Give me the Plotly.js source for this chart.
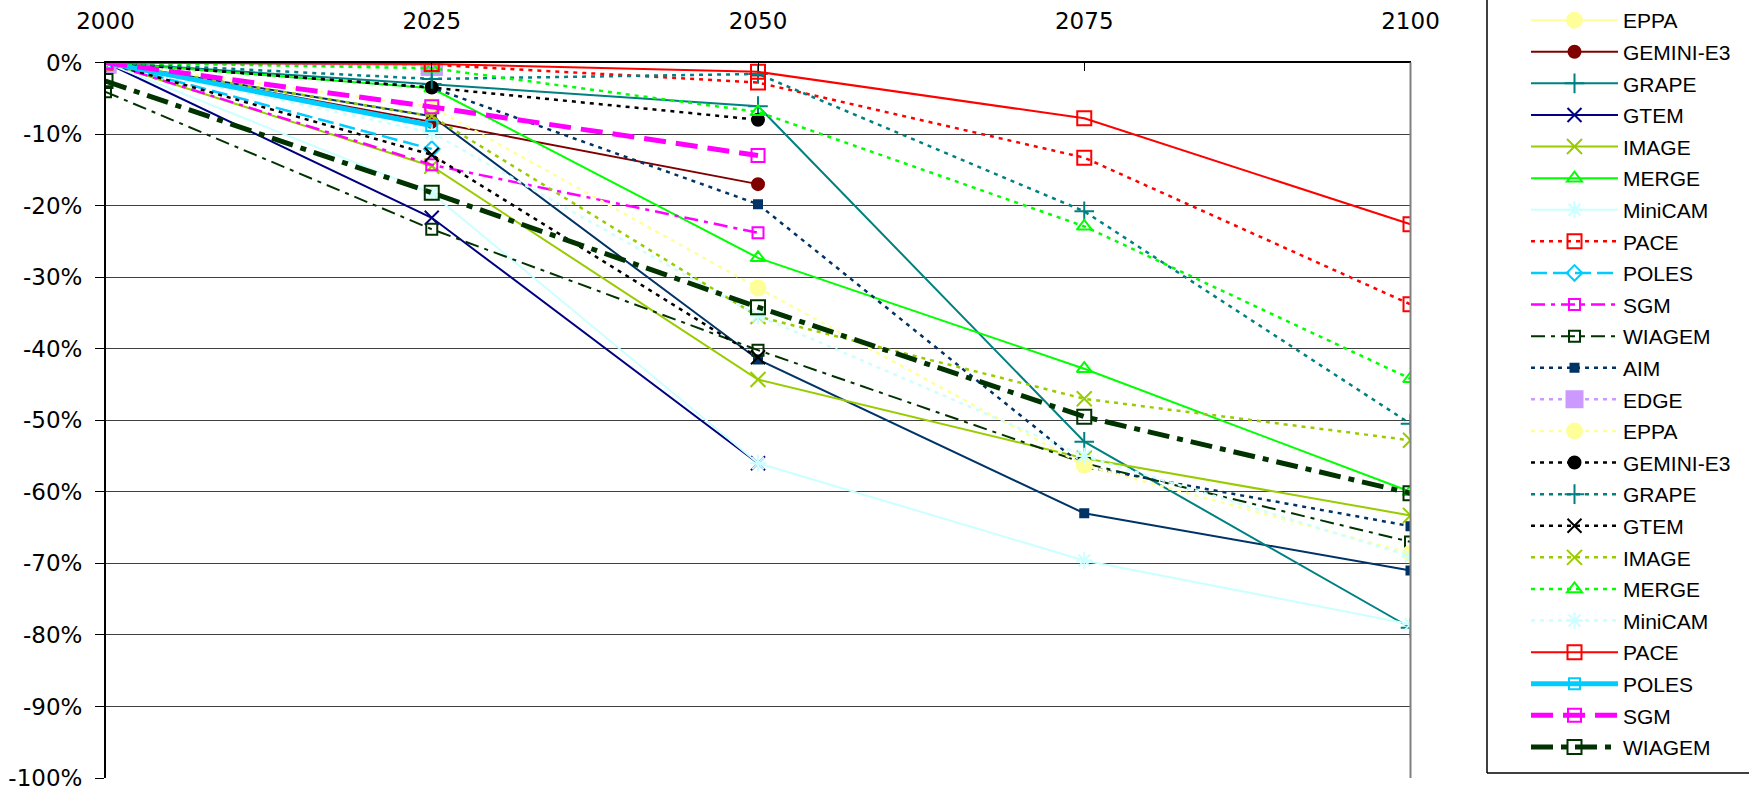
<!DOCTYPE html>
<html>
<head>
<meta charset="utf-8">
<script src="https://cdn.plot.ly/plotly-3.0.1.min.js"></script>
<style>
  html, body { margin: 0; padding: 0; background: #ffffff; }
  #chart { width: 1749px; height: 793px; }
</style>
</head>
<body>
<div id="chart"></div>
<script>
// ---------------- DATA ----------------
const years = [2000, 2025, 2050, 2075, 2100];
const xTickText = ['2000', '2025', '2050', '2075', '2100'];
const yTickVals = [0, -10, -20, -30, -40, -50, -60, -70, -80, -90, -100];
const yTickText = ['0%', '-10%', '-20%', '-30%', '-40%', '-50%', '-60%', '-70%', '-80%', '-90%', '-100%'];

// first scenario set (values in %)
const AIM_A     = [0, -7.5, -41.5, -63, -71];
const EDGE_A    = [0, -0.3, null, null, null];
const EPPA_A    = [0, null, null, null, null];
const GEMINI_A  = [0, -8.3, -17, null, null];
const GRAPE_A   = [0, -3, -6.1, -53, -79];
const GTEM_A    = [0, -21.7, -56, null, null];
const IMAGE_A   = [0, -14.5, -44.3, -55.3, -63.3];
const MERGE_A   = [0, -3.6, -27.3, -42.8, -60];
const MINICAM_A = [0, -18.3, -56, -69.6, -78.5];
const PACE_A    = [0, -0.3, -2.8, -13.3, -33.8];
const POLES_A   = [0, -12.1, null, null, null];
const SGM_A     = [0, -14.3, -23.8, null, null];
const WIAGEM_A  = [-4.1, -23.3, -40.2, -56, -67];

// second scenario set (values in %)
const AIM_B     = [0, -3.5, -19.8, -56.5, -64.8];
const EDGE_B    = [0, -0.3, null, null, null];
const EPPA_B    = [0, -6.2, -31.5, -56.3, -68.6];
const GEMINI_B  = [0, -3.5, -8, null, null];
const GRAPE_B   = [0, -2.3, -1.6, -20.8, -50.5];
const GTEM_B    = [0, -12.9, -41.2, null, null];
const IMAGE_B   = [0, -7.5, -35.5, -47, -52.8];
const MERGE_B   = [0, -0.8, -6.9, -22.9, -44.2];
const MINICAM_B = [0, -9.8, -35.4, -55, -69];
const PACE_B    = [0, -0.2, -1.3, -7.8, -22.6];
const POLES_B   = [0, -8.8, null, null, null];
const SGM_B     = [0, -6.2, -13, null, null];
const WIAGEM_B  = [-2.6, -18.2, -34.2, -49.5, -60.2];

// ---------------- STYLES ----------------
const DOT = '4px,5px';
const series = [
  {name: 'AIM',       y: AIM_A,     color: '#003366', w: 2,   dash: 'solid', sym: 'square',            ms: 8,  leg: false},
  {name: 'EDGE',      y: EDGE_A,    color: '#CC99FF', w: 2,   dash: 'solid', sym: 'square',            ms: 20, leg: false},
  {name: 'EPPA',      y: EPPA_A,    color: '#FFFF99', w: 2,   dash: 'solid', sym: 'circle',            ms: 15, leg: true},
  {name: 'GEMINI-E3', y: GEMINI_A,  color: '#800000', w: 2,   dash: 'solid', sym: 'circle',            ms: 12, leg: true},
  {name: 'GRAPE',     y: GRAPE_A,   color: '#008080', w: 2,   dash: 'solid', sym: 'cross-thin-open',   ms: 14, leg: true},
  {name: 'GTEM',      y: GTEM_A,    color: '#000080', w: 2,   dash: 'solid', sym: 'x-thin-open',       ms: 14, leg: true},
  {name: 'IMAGE',     y: IMAGE_A,   color: '#99CC00', w: 2,   dash: 'solid', sym: 'x-thin-open',       ms: 15, leg: true},
  {name: 'MERGE',     y: MERGE_A,   color: '#00FF00', w: 2,   dash: 'solid', sym: 'triangle-up-open',  ms: 13, leg: true},
  {name: 'MiniCAM',   y: MINICAM_A, color: '#CCFFFF', w: 2,   dash: 'solid', sym: 'asterisk-open',     ms: 14, leg: true},
  {name: 'PACE',      y: PACE_A,    color: '#FF0000', w: 2.5, dash: DOT,     sym: 'square-open',       ms: 14, leg: true},
  {name: 'POLES',     y: POLES_A,   color: '#00CCFF', w: 2.5, dash: '16px,6px', sym: 'diamond-open',   ms: 12, leg: true},
  {name: 'SGM',       y: SGM_A,     color: '#FF00FF', w: 2.5, dash: '14px,6px,4px,6px', sym: 'square-open', ms: 11, leg: true},
  {name: 'WIAGEM',    y: WIAGEM_A,  color: '#003300', w: 2,   dash: '14px,6px,4px,6px', sym: 'square-open', ms: 11, leg: true},
  {name: 'AIM',       y: AIM_B,     color: '#003366', w: 2.5, dash: DOT,     sym: 'square',            ms: 8,  leg: true},
  {name: 'EDGE',      y: EDGE_B,    color: '#CC99FF', w: 2.5, dash: DOT,     sym: 'square',            ms: 20, leg: true},
  {name: 'EPPA',      y: EPPA_B,    color: '#FFFF99', w: 2.5, dash: DOT,     sym: 'circle',            ms: 15, leg: true},
  {name: 'GEMINI-E3', y: GEMINI_B,  color: '#000000', w: 2.5, dash: DOT,     sym: 'circle',            ms: 12, leg: true},
  {name: 'GRAPE',     y: GRAPE_B,   color: '#008080', w: 2.5, dash: DOT,     sym: 'cross-thin-open',   ms: 14, leg: true},
  {name: 'GTEM',      y: GTEM_B,    color: '#000000', w: 2.5, dash: DOT,     sym: 'x-thin-open',       ms: 14, leg: true},
  {name: 'IMAGE',     y: IMAGE_B,   color: '#99CC00', w: 2.5, dash: DOT,     sym: 'x-thin-open',       ms: 15, leg: true},
  {name: 'MERGE',     y: MERGE_B,   color: '#00FF00', w: 2.5, dash: DOT,     sym: 'triangle-up-open',  ms: 13, leg: true},
  {name: 'MiniCAM',   y: MINICAM_B, color: '#CCFFFF', w: 2.5, dash: DOT,     sym: 'asterisk-open',     ms: 14, leg: true},
  {name: 'PACE',      y: PACE_B,    color: '#FF0000', w: 2,   dash: 'solid', sym: 'square-open',       ms: 14, leg: true},
  {name: 'POLES',     y: POLES_B,   color: '#00CCFF', w: 5,   dash: 'solid', sym: 'square-open',       ms: 11, leg: true},
  {name: 'SGM',       y: SGM_B,     color: '#FF00FF', w: 5,   dash: '22px,10px', sym: 'square-open',   ms: 13, leg: true},
  {name: 'WIAGEM',    y: WIAGEM_B,  color: '#003300', w: 5,   dash: '22px,8px,6px,8px', sym: 'square-open', ms: 14, leg: true}
];

const traces = series.map(function (s, i) {
  return {
    type: 'scatter',
    mode: 'lines+markers',
    x: years,
    y: s.y,
    name: s.name,
    legendgroup: 'g' + i,
    showlegend: s.leg,
    connectgaps: true,
    line: {color: s.color, width: s.w, dash: s.dash},
    marker: {symbol: s.sym, size: s.ms, color: s.color, line: {color: s.color, width: 2}},
    hoverinfo: 'skip'
  };
});

const W = 1749, H = 793;
const LEGFONT = 'Liberation Sans';
const TICKFONT = 'DejaVu Sans';

const layout = {
  width: W, height: H,
  margin: {l: 0, r: 0, t: 0, b: 0, pad: 0},
  paper_bgcolor: '#ffffff',
  plot_bgcolor: '#ffffff',
  showlegend: true,
  xaxis: {
    domain: [105.5 / W, 1410.5 / W],
    range: [2000, 2100],
    side: 'top',
    tickmode: 'array',
    tickvals: years,
    ticktext: xTickText,
    ticks: 'inside', ticklen: 8, tickwidth: 1, tickcolor: '#000000',
    showline: true, linecolor: '#000000', linewidth: 2,
    showgrid: false, zeroline: false,
    tickfont: {family: TICKFONT, size: 23, color: '#000000'},
    ticklabelstandoff: 22,
    fixedrange: true
  },
  yaxis: {
    domain: [(H - 778) / H, (H - 62.5) / H],
    range: [-100, 0],
    tickmode: 'array',
    tickvals: yTickVals,
    ticktext: yTickText,
    ticks: 'outside', ticklen: 9, tickwidth: 1, tickcolor: '#000000',
    showline: true, linecolor: '#000000', linewidth: 1.5,
    showgrid: true, gridcolor: '#404040', gridwidth: 1,
    zeroline: false,
    tickfont: {family: TICKFONT, size: 23, color: '#000000'},
    ticklabelstandoff: 8,
    fixedrange: true
  },
  legend: {
    x: 1526 / W, xanchor: 'left',
    y: 1, yanchor: 'top',
    bgcolor: 'rgba(255,255,255,0)',
    borderwidth: 0,
    font: {family: LEGFONT, size: 21, color: '#000000'},
    itemwidth: 87,
    traceorder: 'grouped',
    tracegroupgap: 1.3
  },
  shapes: [
    // right border of plot area
    {type: 'line', xref: 'x domain', yref: 'y domain', x0: 1, x1: 1, y0: 0, y1: 1,
     line: {color: '#808080', width: 2}},
    // legend box (its top lies beyond the picture)
    {type: 'line', xref: 'paper', yref: 'paper', x0: 1487 / W, x1: 1487 / W, y0: (H - 773) / H, y1: 1.01,
     line: {color: '#000000', width: 1.5}},
    {type: 'line', xref: 'paper', yref: 'paper', x0: 1487 / W, x1: 1.01, y0: (H - 773) / H, y1: (H - 773) / H,
     line: {color: '#000000', width: 1.5}}
  ]
};

Plotly.newPlot('chart', traces, layout, {displayModeBar: false, staticPlot: true});
</script>
</body>
</html>
